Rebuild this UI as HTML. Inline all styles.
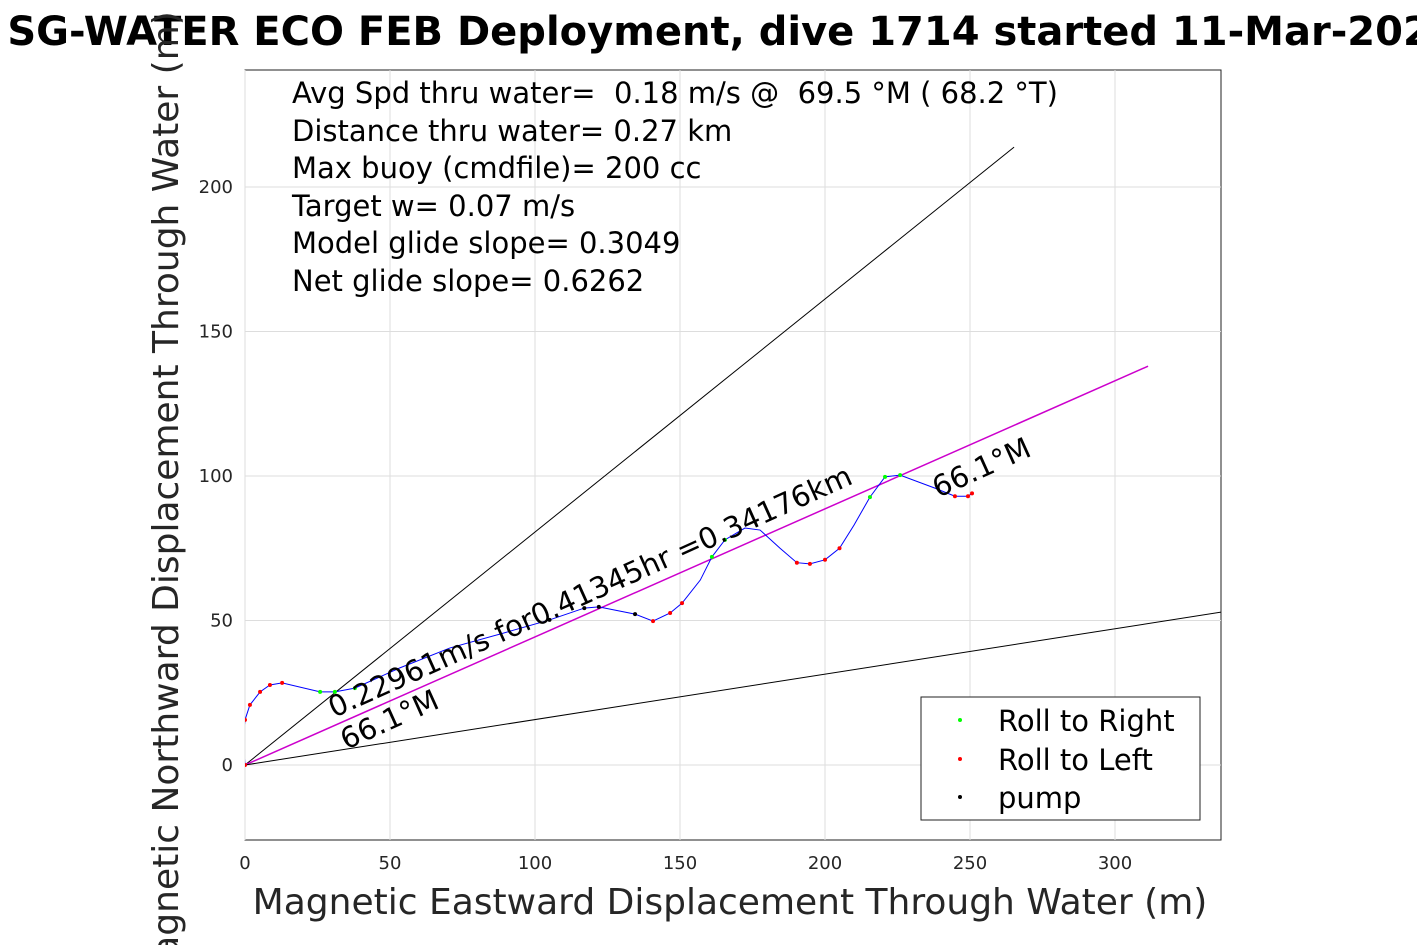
<!DOCTYPE html>
<html><head><meta charset="utf-8"><style>
body{margin:0;background:#fff;width:1417px;height:945px;overflow:hidden}
svg{font-family:"DejaVu Sans","Liberation Sans",sans-serif}
</style></head><body>
<svg id="chart" width="1417" height="945" xmlns="http://www.w3.org/2000/svg">
<defs><clipPath id="pc"><rect x="245" y="70" width="976" height="770"/></clipPath></defs>
<rect x="245" y="70" width="976" height="770" fill="#fff" stroke="#222"/>
<g id="grid"></g>
<g id="lines" clip-path="url(#pc)"></g>
<g id="ticks"></g>
<text x="733" y="45" text-anchor="middle" font-size="40" font-weight="bold">SG-WATER ECO FEB Deployment, dive 1714 started 11-Mar-2022</text>
<g font-size="29">
<text x="292" y="103" xml:space="preserve">Avg Spd thru water=  0.18 m/s @  69.5 °M ( 68.2 °T)</text>
<text x="292" y="141">Distance thru water=  0.27 km</text>
<text x="292" y="178">Max buoy (cmdfile)= 200 cc</text>
<text x="292" y="216">Target w= 0.07 m/s</text>
<text x="292" y="253">Model glide slope= 0.3049</text>
<text x="292" y="291">Net glide slope= 0.6262</text>
</g>
<text transform="translate(334,718) rotate(-24.3)" font-size="29">0.22961m/s for0.41345hr =0.34176km</text>
<text transform="translate(346,750) rotate(-24.3)" font-size="29">66.1°M</text>
<text transform="translate(938,498) rotate(-24.3)" font-size="29">66.1°M</text>
<text x="730" y="914" text-anchor="middle" font-size="36" fill="#262626">Magnetic Eastward Displacement Through Water (m)</text>
<text transform="translate(178,500) rotate(-90)" text-anchor="middle" font-size="36" fill="#262626">Magnetic Northward Displacement Through Water (m)</text>
<g>
<rect x="921" y="697" width="279" height="123" fill="#fff" stroke="#222"/>
<circle cx="960" cy="720" r="2" fill="#0f0"/><text x="998" y="731" font-size="29">Roll to Right</text>
<circle cx="960" cy="759" r="2" fill="#f00"/><text x="998" y="770" font-size="29">Roll to Left</text>
<circle cx="960" cy="797" r="2" fill="#000"/><text x="998" y="808" font-size="29">pump</text>
</g>
</svg>
<script>
const xTicks=[0,50,100,150,200,250,300];
const yTicks=[0,50,100,150,200];
const trackX=[0,-0.7,0,1.7,5.2,8.6,12.8,25.9,31,37.9,53.4,70.7,87.9,105,117,122,134.5,140.7,146.6,150.7,157,161,165.5,172.4,177.6,184.5,190.3,194.8,200,205,210,215.5,220.7,225.9,237.9,244.8,249.3,250.7];
const trackY=[0,8.7,15.6,20.8,25.3,27.7,28.4,25.3,25.3,26.6,33.6,40.5,45.3,50.2,54.3,54.7,52.2,49.8,52.6,56,64,72,77.9,82,81.3,75,70,69.6,71,75,83,92.7,99.7,100.3,95.8,93,93,94];
const redIdx=[0,1,2,3,4,5,6,17,18,19,26,27,28,29,35,36,37];
const greenIdx=[7,8,9,21,22,31,32,33];
const pumpIdx=[13,14,15,16];
const refEndX=[265.2,311.4,336.6];
const refEndY=[213.8,138,52.9];
const X=v=>245+v*2.9, Y=v=>765-v*2.89;
const NS="http://www.w3.org/2000/svg";
function mk(t,a,p){const e=document.createElementNS(NS,t);for(const k in a)e.setAttribute(k,a[k]);p.appendChild(e);return e;}
const grid=document.getElementById('grid'),ticks=document.getElementById('ticks'),lines=document.getElementById('lines');
xTicks.forEach(t=>{
 const g=mk('line',{x1:X(t),x2:X(t),y1:70,y2:840,stroke:'#ddd'},grid);
 
 
 const l=mk('text',{x:X(t),y:869,'text-anchor':'middle','font-size':18,fill:'#262626'},ticks);
 l.textContent=t;
 
 
});
yTicks.forEach(t=>{
 const g=mk('line',{x1:245,x2:1221,y1:Y(t),y2:Y(t),stroke:'#ddd'},grid);
 
 
 const l=mk('text',{x:233,y:Y(t)+6,'text-anchor':'end','font-size':18,fill:'#262626'},ticks);
 l.textContent=t;
 
 
});
refEndX.forEach((ex,i)=>{
 const l=mk('line',{x1:X(0),y1:Y(0),x2:X(ex),y2:Y(refEndY[i]),stroke:i==1?'#c0c':'#000','stroke-width':i==1?1.5:1},lines);
 
 
});
let d='';
trackX.forEach((x,i)=>{d+=(i?'L':'M')+X(x)+' '+Y(trackY[i]);});
const tr=mk('path',{d:d,fill:'none',stroke:'#00f','stroke-width':1},lines);


[[redIdx,'#f00','roll-left-point'],[greenIdx,'#0f0','roll-right-point'],[pumpIdx,'#000','pump-point']].forEach(([ix,c,n])=>{
 ix.forEach(i=>{
  const p=mk('circle',{cx:X(trackX[i]),cy:Y(trackY[i]),r:2,fill:c},lines);
  
  
 });
});
</script>
</body></html>
